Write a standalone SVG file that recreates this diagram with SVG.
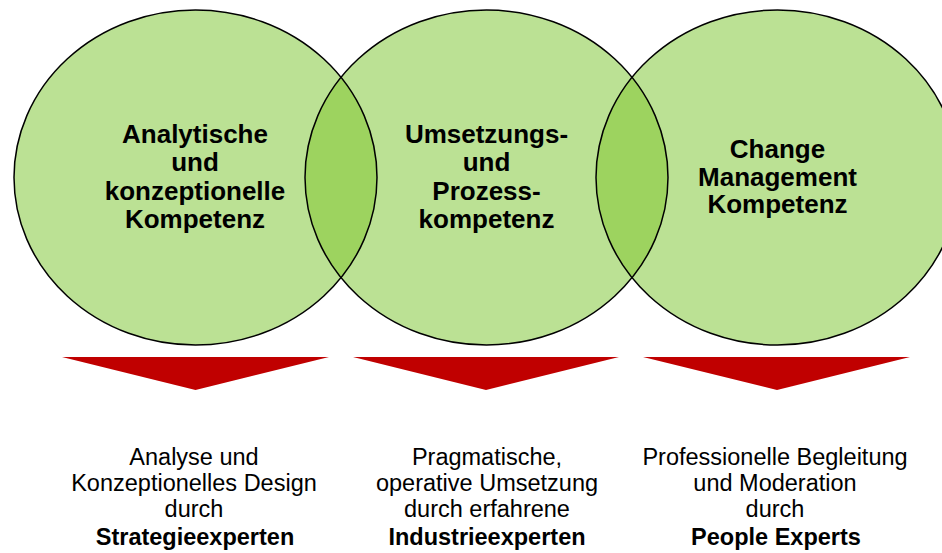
<svg xmlns="http://www.w3.org/2000/svg" width="942" height="553" viewBox="0 0 942 553">
<style>
.circ{fill:#BBE194;stroke:none}
.lens{fill:#9DD35F;stroke:none}
.outline{fill:none;stroke:#000;stroke-width:1.5}
.arrow{fill:#C00000}
.ct{font-family:"Liberation Sans",Arial,sans-serif;font-weight:bold;font-size:26px;text-anchor:middle;fill:#000}
.bt{font-family:"Liberation Sans",Arial,sans-serif;font-size:23.5px;text-anchor:middle;fill:#000}
.bb{font-weight:bold}
</style>
<defs>
<clipPath id="c1"><ellipse cx="195.5" cy="177.5" rx="181.5" ry="167.5"/></clipPath>
<clipPath id="c2"><ellipse cx="486.5" cy="177.5" rx="181.5" ry="167.5"/></clipPath>
</defs>
<rect width="942" height="553" fill="#fff"/>
<g id="circles">
<ellipse class="circ" cx="195.5" cy="177.5" rx="181.5" ry="167.5"/>
<ellipse class="circ" cx="486.5" cy="177.5" rx="181.5" ry="167.5"/>
<ellipse class="circ" cx="777.5" cy="177.5" rx="181.5" ry="167.5"/>
<ellipse class="lens" cx="486.5" cy="177.5" rx="181.5" ry="167.5" clip-path="url(#c1)"/>
<ellipse class="lens" cx="777.5" cy="177.5" rx="181.5" ry="167.5" clip-path="url(#c2)"/>
<ellipse class="outline" cx="195.5" cy="177.5" rx="181.5" ry="167.5"/>
<ellipse class="outline" cx="486.5" cy="177.5" rx="181.5" ry="167.5"/>
<ellipse class="outline" cx="777.5" cy="177.5" rx="181.5" ry="167.5"/>
</g>
<g id="node1">
<text class="ct" x="195" y="143">Analytische</text>
<text class="ct" x="195" y="171">und</text>
<text class="ct" x="195" y="200">konzeptionelle</text>
<text class="ct" x="195" y="228">Kompetenz</text>
</g>
<g id="node2">
<text class="ct" x="486.5" y="143">Umsetzungs-</text>
<text class="ct" x="486.5" y="171">und</text>
<text class="ct" x="486.5" y="200">Prozess-</text>
<text class="ct" x="486.5" y="228">kompetenz</text>
</g>
<g id="node3">
<text class="ct" x="777.5" y="158">Change</text>
<text class="ct" x="777.5" y="185.5">Management</text>
<text class="ct" x="777.5" y="213">Kompetenz</text>
</g>
<g id="connectors">
<polygon class="arrow" points="62,357 329,357 195.5,390"/>
<polygon class="arrow" points="353,357 619,357 486,390"/>
<polygon class="arrow" points="643,357 910,357 777,390"/>
</g>
<g id="label1">
<text class="bt" x="194" y="465">Analyse und</text>
<text class="bt" x="194" y="491">Konzeptionelles Design</text>
<text class="bt" x="194" y="517">durch</text>
<text class="bt bb" x="195" y="545">Strategieexperten</text>
</g>
<g id="label2">
<text class="bt" x="487" y="465">Pragmatische,</text>
<text class="bt" x="487" y="491">operative Umsetzung</text>
<text class="bt" x="487" y="517">durch erfahrene</text>
<text class="bt bb" x="487" y="545">Industrieexperten</text>
</g>
<g id="label3">
<text class="bt" x="775" y="465">Professionelle Begleitung</text>
<text class="bt" x="775" y="491">und Moderation</text>
<text class="bt" x="775" y="517">durch</text>
<text class="bt bb" x="776" y="545">People Experts</text>
</g>
</svg>
